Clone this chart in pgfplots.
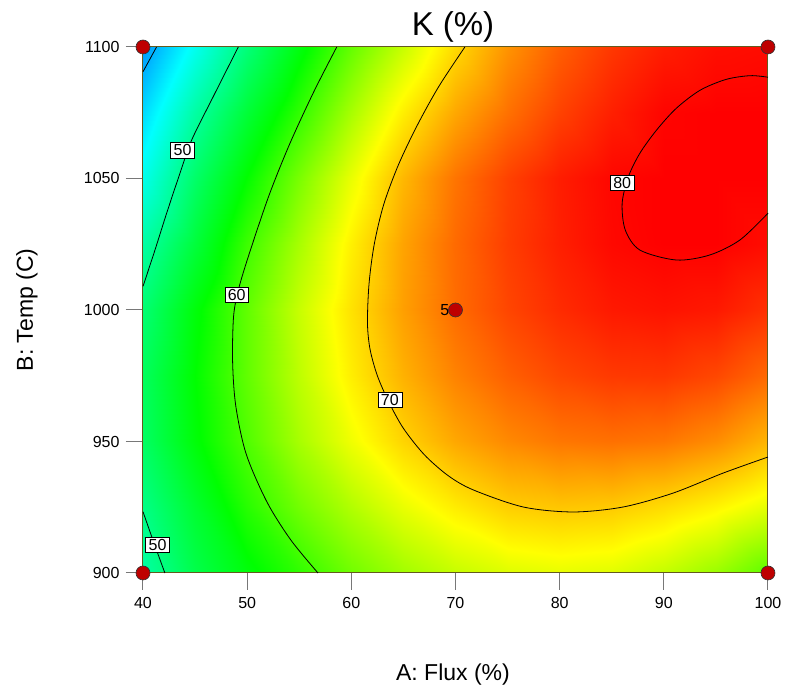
\documentclass[border=0pt]{standalone}
\usepackage{fontspec}
\setmainfont{Liberation Sans}
\usepackage{pgfplots}
\pgfplotsset{compat=1.18}
\definecolor{framecol}{RGB}{100,90,30}
\definecolor{tickgray}{RGB}{120,120,120}
\definecolor{dotred}{RGB}{190,0,0}
\begin{document}
\begin{tikzpicture}
\begin{axis}[
  at={(0pt,0pt)}, anchor=south west,
  scale only axis, width=625pt, height=526pt,
  view={0}{90},
  xmin=40, xmax=100, ymin=900, ymax=1100, zmin=0, zmax=100,
  xtick={40,50,...,100}, ytick={900,950,...,1100}, ztick=\empty,
  xtick pos=left, ytick pos=left,
  tick align=outside, major tick length=17pt,
  tick style={draw=tickgray, line width=1pt},
  axis line style={draw=framecol, line width=1pt},
  axis on top,
  colormap={de}{rgb255(30pt)=(0,0,255); rgb255(44pt)=(0,255,255); rgb255(57pt)=(0,255,0); rgb255(67.5pt)=(255,255,0); rgb255(80pt)=(255,0,0)},
  point meta min=30, point meta max=80,
  /pgf/number format/assume math mode=true,
  /pgf/number format/1000 sep={},
  tick label style={font=\fontsize{16}{19}\selectfont},
  xticklabel style={yshift=-4pt},
  yticklabel style={xshift=-3pt},
]
\addplot3[surf, shader=interp, mesh/cols=13, point meta=\thisrow{z}] table {
x y z
40 900 48.6
45 900 53.2
50 900 56.4
55 900 58.9
60 900 61.6
65 900 63.6
70 900 65.1
75 900 66.1
80 900 66.5
85 900 66.2
90 900 65.0
95 900 63.3
100 900 60.8
40 925 50.2
45 925 54.6
50 925 58.6
55 925 61.7
60 925 64.3
65 925 66.6
70 925 68.4
75 925 69.9
80 925 70.3
85 925 70.1
90 925 69.2
95 925 68.0
100 925 66.4
40 950 52.0
45 950 56.6
50 950 60.3
55 950 63.9
60 950 66.9
65 950 69.6
70 950 71.8
75 950 73.3
80 950 74.2
85 950 74.5
90 950 74.2
95 950 73.1
100 950 71.1
40 975 52.3
45 975 57.0
50 975 61.0
55 975 64.8
60 975 68.3
65 975 71.3
70 975 73.6
75 975 75.3
80 975 76.5
85 975 77.2
90 975 77.3
95 975 76.5
100 975 74.8
40 1000 51.2
45 1000 56.5
50 1000 61.0
55 1000 65.2
60 1000 68.9
65 1000 72.2
70 1000 74.7
75 1000 76.6
80 1000 77.9
85 1000 78.8
90 1000 79.1
95 1000 78.8
100 1000 77.6
40 1025 48.6
45 1025 54.0
50 1025 59.5
55 1025 63.9
60 1025 68.2
65 1025 72.0
70 1025 74.8
75 1025 77.0
80 1025 78.5
85 1025 79.6
90 1025 80.3
95 1025 80.2
100 1025 79.4
40 1050 45.0
45 1050 51.7
50 1050 57.1
55 1050 62.0
60 1050 66.6
65 1050 71.0
70 1050 74.3
75 1050 76.8
80 1050 78.6
85 1050 79.7
90 1050 80.7
95 1050 81.2
100 1050 80.4
40 1075 42.0
45 1075 48.7
50 1075 54.2
55 1075 59.0
60 1075 63.9
65 1075 68.3
70 1075 71.8
75 1075 74.5
80 1075 76.8
85 1075 78.5
90 1075 79.8
95 1075 80.6
100 1075 80.4
40 1100 38.3
45 1100 44.8
50 1100 50.9
55 1100 56.2
60 1100 61.1
65 1100 65.2
70 1100 69.3
75 1100 72.8
80 1100 75.4
85 1100 77.3
90 1100 78.6
95 1100 79.3
100 1100 79.45
};
\end{axis}
\begin{axis}[
  at={(0pt,0pt)}, anchor=south west,
  scale only axis, width=625pt, height=526pt,
  xmin=40, xmax=100, ymin=900, ymax=1100,
  hide axis, clip=false,
]
% contour 40
\addplot[black, line width=0.8pt] coordinates {(40,1090.6) (41.3,1100)};
% contour 50 (top)
\addplot[black, line width=0.8pt, smooth] coordinates {(40,1009) (41.15,1022.8) (42.27,1036.8) (43.55,1052) (44.67,1064.6) (46.74,1081.1) (49.15,1100)};
% contour 50 (bottom)
\addplot[black, line width=0.8pt, smooth] coordinates {(40,923.3) (41.0,912) (42.1,900)};
% contour 60
\addplot[black, line width=0.8pt, smooth] coordinates {(58.6,1100) (56.4,1083) (54.1,1063.3) (52.1,1043.6) (50.2,1021.4) (49.2,1008.3) (48.7,997.8) (48.6,980.7) (48.9,963.7) (49.9,945.3) (51.9,927) (54.2,912.5) (56.8,900)};
% contour 70
\addplot[black, line width=0.8pt, smooth] coordinates {(70.9,1100) (68.4,1085) (66.3,1070) (64.5,1055) (63.1,1040) (62.2,1025) (61.7,1010) (61.55,995) (61.8,985) (62.5,975) (63.6,965) (65.0,955) (67.0,945) (69.3,937) (71.7,931.6) (76.5,925.1) (81.3,923.2) (86.1,925.1) (90.9,930.4) (95.7,938.0) (100,944.1)};
% contour 80
\addplot[black, line width=0.8pt, smooth] coordinates {(100,1088.5) (98.3,1089.1) (96.0,1087.7) (93.5,1083.6) (91.2,1076.7) (89.3,1068.4) (87.7,1059.6) (86.6,1050.7) (86.0,1040.6) (86.3,1030.4) (87.7,1022.8) (91.2,1019.0) (94.4,1020.9) (97.3,1026.6) (100,1036.8)};
% contour labels
\tikzset{clab/.style={fill=white, draw=black, line width=0.5pt, inner xsep=3pt, inner ysep=2pt, font=\fontsize{16}{18}\selectfont}}
\node[clab] at (axis cs:43.8,1060.8) {50};
\node[clab] at (axis cs:49.0,1005.7) {60};
\node[clab] at (axis cs:63.7,965.8) {70};
\node[clab] at (axis cs:86.0,1048.3) {80};
\node[clab] at (axis cs:41.4,910.7) {50};
% design points
\addplot[only marks, mark=*, mark size=7pt, mark options={fill=dotred, draw=black!80, line width=0.6pt}] coordinates {(40,900) (40,1100) (100,900) (100,1100) (70,1000)};
\node[anchor=east, font=\fontsize{16}{19}\selectfont, inner sep=0pt] at ([xshift=-6pt]axis cs:70,1000) {5};
\end{axis}
\node[font=\fontsize{33}{38}\selectfont] at (310pt,546pt) {K (\%)};
\node[font=\fontsize{23}{27}\selectfont] at (310pt,-102pt) {A: Flux (\%)};
\node[font=\fontsize{23}{27}\selectfont, rotate=90] at (-116pt,263pt) {B: Temp (C)};
\path (-143pt,-120pt) rectangle (645pt,573pt);
\end{tikzpicture}
\end{document}
